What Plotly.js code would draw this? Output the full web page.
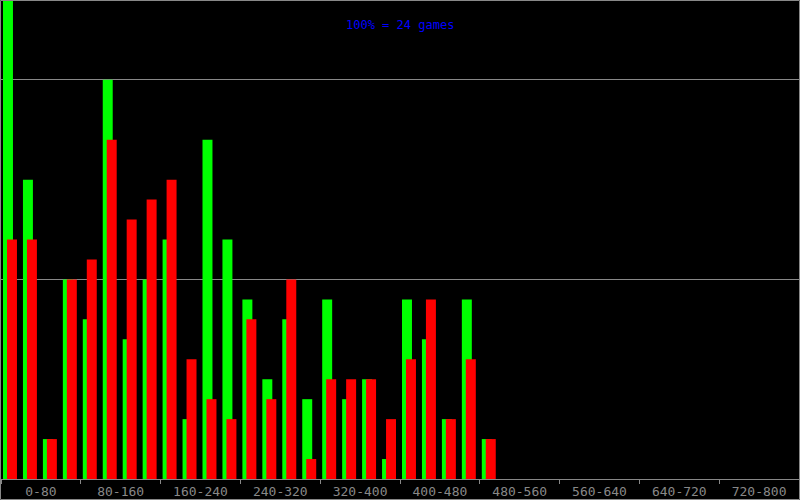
<!DOCTYPE html>
<html>
<head>
<meta charset="utf-8">
<script src="https://cdn.plot.ly/plotly-3.0.1.min.js"></script>
<style>
html,body{margin:0;padding:0;background:#000;}
#chart{width:800px;height:500px;}
</style>
</head>
<body>
<div id="chart"></div>
<script>
const binLabels = ["0-80","80-160","160-240","240-320","320-400","400-480","480-560","560-640","640-720","720-800"];
const greenCounts = [24,15,2,10,8,20,7,10,12,3,17,12,9,5,8,4,9,4,5,1,9,7,3,9,2,0,0,0,0,0,0,0,0,0,0,0,0,0,0,0];
const redCounts   = [12,12,2,10,11,17,13,14,15,6,4,3,8,4,10,1,5,5,5,3,6,9,3,6,2,0,0,0,0,0,0,0,0,0,0,0,0,0,0,0];
const titleText = "100% = 24 games";

const binWidth = 20;
const labelWidth = 80;
const binStarts = greenCounts.map((_, i) => i * binWidth);
const labelCenters = binLabels.map((_, i) => i * labelWidth + labelWidth / 2);

const traces = [
  {type:'bar', x: binStarts, y: greenCounts, width: 10, offset: 2,
   marker:{color:'#00ff00', line:{width:0}}, hoverinfo:'skip'},
  {type:'bar', x: binStarts, y: redCounts, width: 10, offset: 6,
   marker:{color:'#ff0000', line:{width:0}}, hoverinfo:'skip'}
];

const pw = 798, ph = 479;
const layout = {
  width: 800, height: 500,
  paper_bgcolor:'#000', plot_bgcolor:'#000',
  margin:{l:1, r:1, t:0, b:21, pad:0},
  barmode:'overlay',
  showlegend:false,
  font:{family:'DejaVu Sans Mono', color:'#888'},
  xaxis:{range:[0,800], showgrid:false, zeroline:false,
         showline:true, linecolor:'#888', linewidth:1,
         tickmode:'array', tickvals: labelCenters, ticktext: binLabels,
         ticks:'', tickfont:{family:'DejaVu Sans Mono', size:13, color:'#888'},
         minor:{tick0:0, dtick:80, ticks:'outside', ticklen:4, tickcolor:'#888', tickwidth:1, showgrid:false},
         fixedrange:true},
  yaxis:{range:[0,24], showgrid:true, gridcolor:'#888', gridwidth:1, dtick:10,
         showticklabels:false, zeroline:false, showline:false, ticks:'', fixedrange:true},
  annotations:[{text: titleText, xref:'paper', yref:'paper', x:0.5, y:1 - 25/ph,
    xanchor:'center', yanchor:'middle', showarrow:false,
    font:{family:'DejaVu Sans Mono', size:12, color:'#0000ff'}}],
  shapes:[{type:'rect', xref:'paper', yref:'paper',
    x0: -0.5/pw, x1: 1 + 0.5/pw, y0: -20.5/ph, y1: 1 - 0.5/ph,
    line:{color:'#888', width:1}, fillcolor:'rgba(0,0,0,0)', layer:'above'}]
};

Plotly.newPlot('chart', traces, layout, {displayModeBar:false, staticPlot:true});
</script>
</body>
</html>
